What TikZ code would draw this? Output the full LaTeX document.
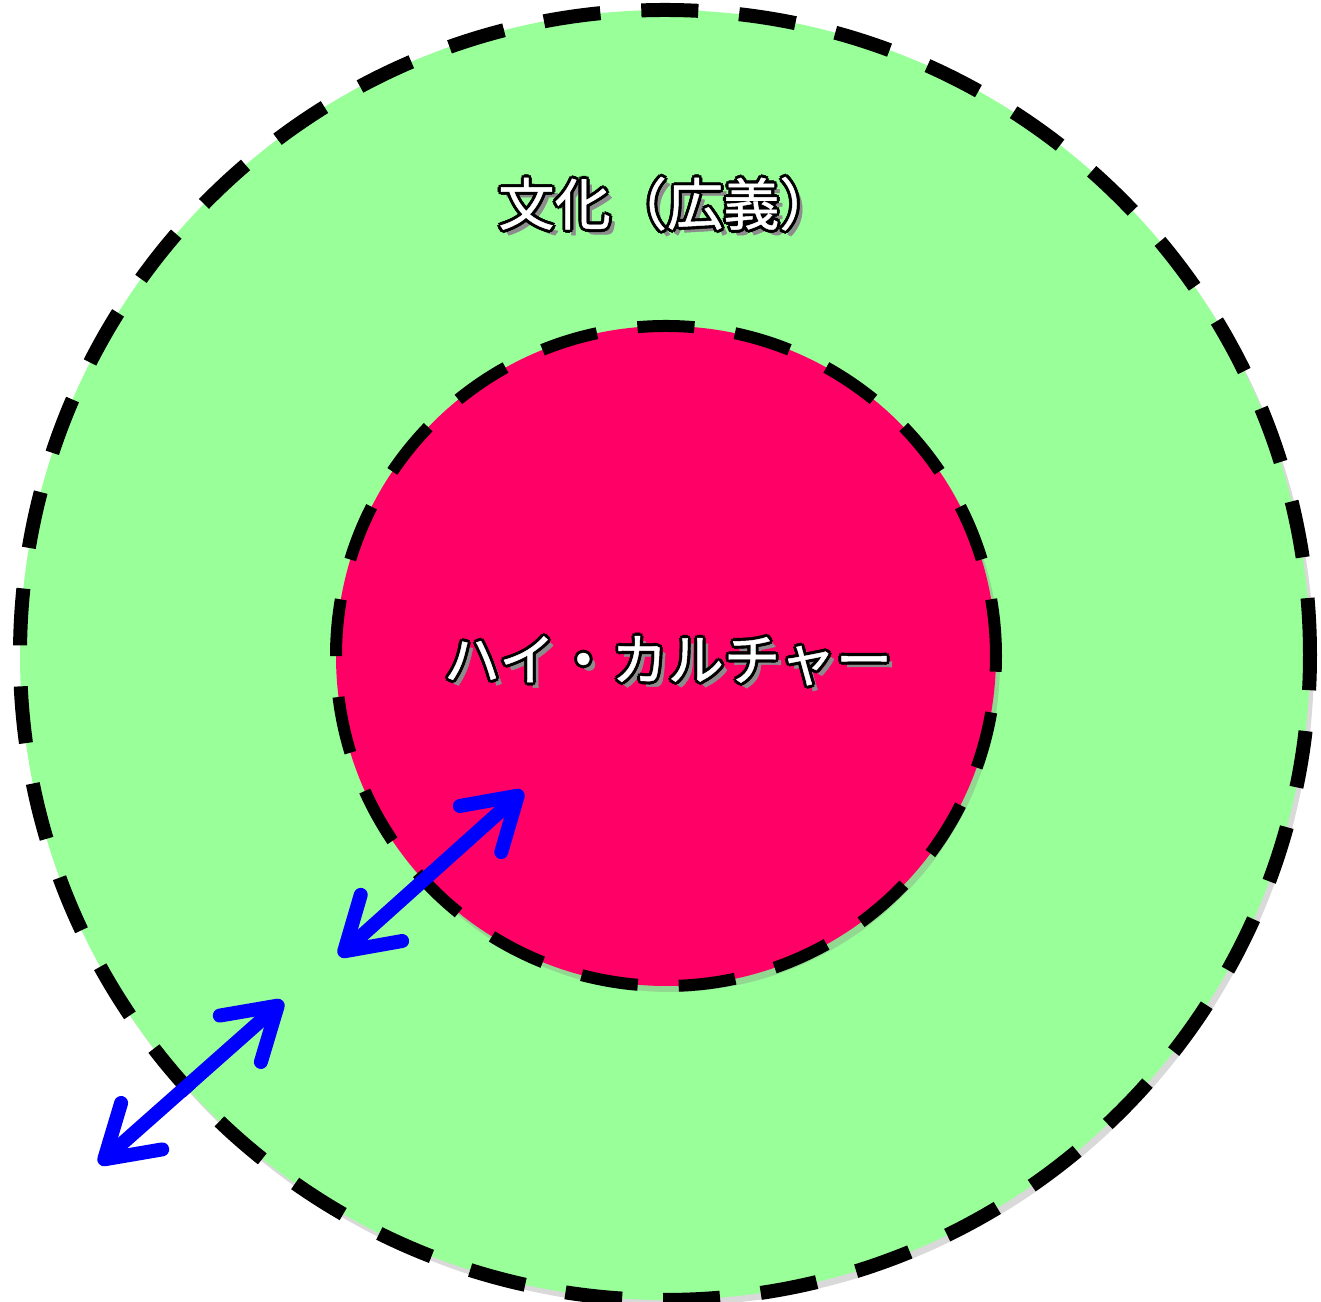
\documentclass[tikz,border=0pt]{standalone}
\usepackage{fontspec}
\newfontfamily\jpfont[FakeBold=0.8]{Noto Sans CJK JP}
\usetikzlibrary{arrows.meta,shadows}

\definecolor{leafgreen}{HTML}{99FF99}
\definecolor{hotpink}{HTML}{FF0066}

% white letters with a black rim and a soft shadow
\newcommand{\rimmed}[1]{%
  \rlap{\kern1.6pt\raisebox{-1.6pt}{\textcolor{black!45}{#1}}}%
  \foreach \dx/\dy in {0.9/0,-0.9/0,0/0.9,0/-0.9,0.64/0.64,0.64/-0.64,-0.64/0.64,-0.64/-0.64}{%
    \rlap{\kern\dx pt\raisebox{\dy pt}{\textcolor{black}{#1}}}}%
  \textcolor{white}{#1}}

\begin{document}
\begin{tikzpicture}[
  font=\jpfont\fontsize{16pt}{19pt}\selectfont,
  ring/.style={circle, draw=black, dash pattern=on 5.7mm off 4.1mm,
    drop shadow={shadow xshift=0.4mm, shadow yshift=-0.6mm, opacity=0.3}},
  link/.style={{Straight Barb[length=5mm,width=6.2mm,line width=1.4mm,round]}-{Straight Barb[length=5mm,width=6.2mm,line width=1.4mm,round]},
    draw=blue, line width=1.4mm}
]
\useasboundingbox (0,0) rectangle (13.21,13.02);
\node[ring, fill=leafgreen, line width=1.4mm, minimum size=12.9cm] (broad) at (6.65,6.47) {};
\node[ring, fill=hotpink, line width=1.2mm, minimum size=6.6cm] (high) at (6.66,6.46) {};
\node (broadtxt) at (6.67,10.97) {\rimmed{文化（広義）}};
\node (hightxt) at (6.68,6.40) {\rimmed{ハイ・カルチャー}};
\coordinate (a1) at (3.39,3.46);
\coordinate (a2) at (5.23,5.11);
\coordinate (b1) at (0.99,1.38);
\coordinate (b2) at (2.83,3.01);
\draw[link] (a1) -- (a2);
\draw[link] (b1) -- (b2);
\end{tikzpicture}
\end{document}
